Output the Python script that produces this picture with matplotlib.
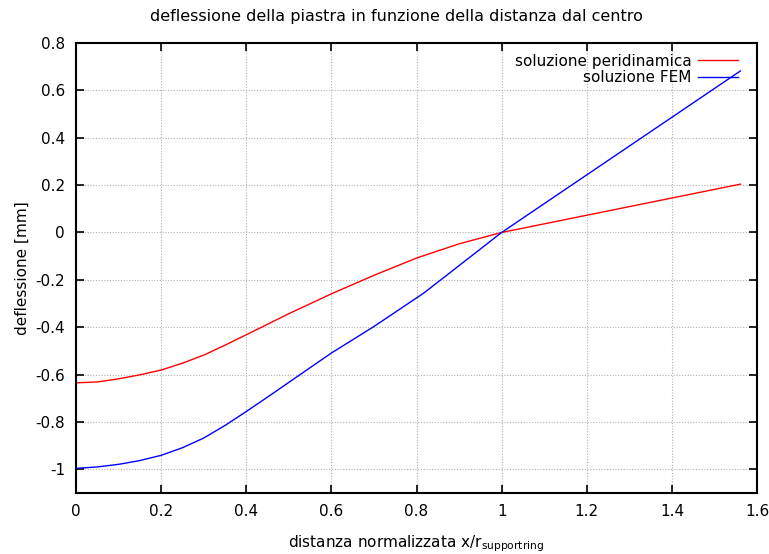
import matplotlib
matplotlib.use("Agg")
import matplotlib.pyplot as plt
from matplotlib.ticker import FuncFormatter, MultipleLocator

plt.rcParams['font.family'] = ['DejaVu Sans']
plt.rcParams['axes.unicode_minus'] = False

# distanza normalizzata e deflessione [mm]
x_peri = [0.0, 0.05, 0.1, 0.15, 0.2, 0.25, 0.3, 0.35, 0.4, 0.5, 0.6, 0.7,
          0.8, 0.9, 1.0, 1.561]
y_peri = [-0.635, -0.631, -0.618, -0.601, -0.581, -0.552, -0.518, -0.476,
          -0.432, -0.343, -0.259, -0.181, -0.108, -0.048, 0.0, 0.204]

x_fem = [0.0, 0.05, 0.1, 0.15, 0.2, 0.25, 0.3, 0.35, 0.4, 0.45, 0.5, 0.6,
         0.7, 0.817, 0.9, 1.0, 1.561]
y_fem = [-0.996, -0.990, -0.979, -0.963, -0.941, -0.909, -0.868, -0.815,
         -0.756, -0.695, -0.633, -0.509, -0.397, -0.256, -0.140, 0.0, 0.682]

fig = plt.figure(figsize=(7.69, 5.54), dpi=100)
ax = fig.add_axes([76 / 769, 1 - 493 / 554, 681 / 769, 450 / 554])

ax.plot(x_peri, y_peri, color='#ff0000', lw=1.0, label='soluzione peridinamica')
ax.plot(x_fem, y_fem, color='#0000ff', lw=1.0, label='soluzione FEM')

ax.set_xlim(0, 1.6)
ax.set_ylim(-1.1, 0.8)
ax.xaxis.set_major_locator(MultipleLocator(0.2))
ax.yaxis.set_major_locator(MultipleLocator(0.2))
fmt = FuncFormatter(lambda v, p: '%g' % round(v, 6))
ax.xaxis.set_major_formatter(fmt)
ax.yaxis.set_major_formatter(fmt)

ax.grid(True, color='#b0b0b0', linestyle=(0, (1, 1.5)), linewidth=0.8)
ax.tick_params(direction='in', length=6, width=1.2, top=True, right=True,
               labelsize=11, pad=8, colors='black')
for s in ax.spines.values():
    s.set_linewidth(1.5)

ax.set_xlabel(r'distanza normalizzata x/r$_{\mathregular{supportring}}$', fontsize=11, labelpad=10)
ax.set_ylabel('deflessione [mm]', fontsize=11, labelpad=4)
fig.text(396 / 769, 1 - 16 / 554, 'deflessione della piastra in funzione della distanza dal centro',
         ha='center', va='center', fontsize=11.5)

leg = ax.legend(loc='upper right', bbox_to_anchor=(0.988, 1.0), frameon=False,
                fontsize=11, markerfirst=False, handlelength=2.6,
                handletextpad=0.45, borderaxespad=0.3, labelspacing=0.1)
for t in leg.get_texts():
    t.set_ha('right')

fig.savefig('out.png', dpi=100)
